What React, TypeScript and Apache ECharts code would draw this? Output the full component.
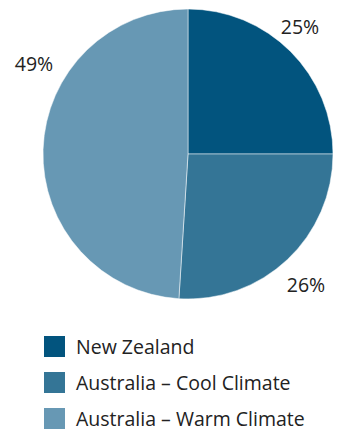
import React, { useEffect, useRef } from "react";
import * as echarts from "echarts";

const categories = ["New Zealand", "Australia – Cool Climate", "Australia – Warm Climate"];
const shares = [25, 26, 49];
const colors = ["#02547e", "#347596", "#6798b4"];
const labelPositions = [
  [300, 26],
  [306, 284],
  [34, 63],
];
const legendTops = [334, 370, 406];

export default function App() {
  const ref = useRef<HTMLDivElement>(null);
  useEffect(() => {
    document.body.style.margin = "0";
    const chart = echarts.init(ref.current!, null, { renderer: "svg" });
    chart.setOption({
      animation: false,
      textStyle: { fontFamily: "Open Sans" },
      legend: categories.map((name, i) => ({
        orient: "vertical",
        left: 42,
        top: legendTops[i],
        padding: 0,
        itemWidth: 23,
        itemHeight: 23,
        icon: "rect",
        data: [name],
        selectedMode: false,
        textStyle: { fontSize: 19.5, color: "#222", fontFamily: "Open Sans", lineHeight: 20, padding: [3, 0, 0, 5] },
      })),
      graphic: shares.map((v, i) => ({
        type: "text",
        x: labelPositions[i][0],
        y: labelPositions[i][1],
        style: {
          text: `${v}%`,
          fontSize: 19.5,
          fontFamily: "Open Sans",
          fill: "#222",
          align: "center",
          verticalAlign: "middle",
        },
      })),
      series: [
        {
          type: "pie",
          center: [188, 154],
          radius: [0, 145],
          startAngle: 90,
          clockwise: true,
          silent: true,
          itemStyle: { borderColor: "#ffffff", borderWidth: 0.5 },
          label: { show: false },
          labelLine: { show: false },
          data: categories.map((name, i) => ({
            name,
            value: shares[i],
            itemStyle: { color: colors[i] },
          })),
        },
      ],
    });
    return () => chart.dispose();
  }, []);
  return <div ref={ref} style={{ width: 339, height: 429 }} />;
}
